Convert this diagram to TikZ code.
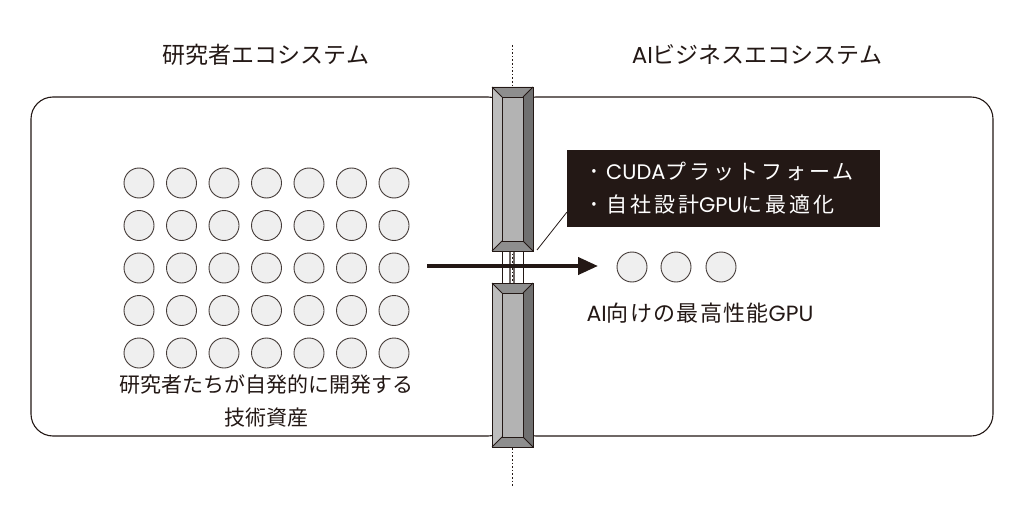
\documentclass[tikz,border=0pt]{standalone}
\usepackage{fontspec}
\setmainfont{Noto Sans CJK JP}
\newfontfamily\lat{Poppins}
\usetikzlibrary{arrows.meta}
\definecolor{ink}{HTML}{231815}
\definecolor{dotfill}{HTML}{EFEFEF}
\definecolor{pilLight}{HTML}{BDBDBD}
\definecolor{pilFace}{HTML}{B3B3B3}
\definecolor{pilMid}{HTML}{8E8E8E}
\definecolor{pilDark}{HTML}{707070}
\newcommand\mypillar[2]{%
  % #1 top y, #2 bottom y ; x from 492 to 533, bevel 10
  \fill[pilLight] (492,#1) -- (502,#1+10) -- (502,#2-10) -- (492,#2) -- cycle;
  \fill[pilDark] (533,#1) -- (523,#1+10) -- (523,#2-10) -- (533,#2) -- cycle;
  \fill[pilMid] (492,#1) -- (533,#1) -- (523,#1+10) -- (502,#1+10) -- cycle;
  \fill[pilMid] (492,#2) -- (533,#2) -- (523,#2-10) -- (502,#2-10) -- cycle;
  \fill[pilFace] (502,#1+10) rectangle (523,#2-10);
  \draw[pillarline] (492,#1) rectangle (533,#2);
  \draw[pillarline] (502,#1+10) rectangle (523,#2-10);
  \draw[pillarline] (492,#1) -- (502,#1+10) (533,#1) -- (523,#1+10)
                    (492,#2) -- (502,#2-10) (533,#2) -- (523,#2-10);
}
\begin{document}
\begin{tikzpicture}[x=1pt,y=-1pt,
  frame/.style={draw=ink, line width=1.1pt, rounded corners=22pt},
  dot/.style={circle, draw=ink!85, fill=dotfill, line width=0.9pt, minimum size=30pt, inner sep=0pt},
  pillarline/.style={draw=ink, line width=0.8pt},
  title/.style={text=ink, font=\fontsize{23}{27}\selectfont, inner sep=0pt},
  label/.style={text=ink, font=\fontsize{21}{33}\selectfont, inner sep=0pt, align=center},
  infotext/.style={text=white, font=\fontsize{21}{33}\selectfont\addfontfeature{LetterSpace=14}, inner sep=0pt, anchor=west},
]
\useasboundingbox (0,0) rectangle (1024,505);
\fill[white] (0,0) rectangle (1024,505);

% ecosystem frames
\draw[frame] (31,97) rectangle (510,436);
\draw[frame] (514,97) rectangle (993,436);

% dotted boundary
\draw[ink, line width=1pt, dash pattern=on 1.6pt off 2pt] (512,45) -- (512,487);
% shaft between pillars
\draw[ink, line width=0.8pt] (502,251) -- (502,283) (523,251) -- (523,283);

% titles
\node[title] (t1) at (266,55) {研究者エコシステム};
\node[title] (t2) at (757,55) {{\lat AI}ビジネスエコシステム};

% dot grid
\foreach \r in {0,...,4}{
  \foreach \c in {0,...,6}{
    \node[dot] (d\r\c) at (139+42.5*\c, 183+42.5*\r) {};
  }
}
\node[label] (l1) at (266,401) {研究者たちが自発的に開発する\\技術資産};

% right dots
\node[dot] (g1) at (632,267) {};
\node[dot] (g2) at (676,267) {};
\node[dot] (g3) at (721,267) {};
\node[label, font=\fontsize{22}{33}\selectfont\addfontfeature{LetterSpace=6}] (l2) at (700,313) {{\lat AI}向けの最高性能{\lat GPU}};

% arrow
\coordinate (as) at (427,266);
\coordinate (ae) at (598,266);
\draw[ink, line width=4pt, -{Triangle[length=20pt,width=17pt]}] (as) -- (ae);

% pillars
\mypillar{87}{251}
\mypillar{283}{447}

% info box
\node[fill=ink, minimum width=313pt, minimum height=77pt, inner sep=0pt, anchor=north west] (info) at (567,150) {};
\node[text=white, font=\fontsize{14}{14}\selectfont, inner sep=0pt] (b1) at (594,172) {•};
\node[text=white, font=\fontsize{14}{14}\selectfont, inner sep=0pt] (b2) at (594,205) {•};
\node[infotext] (i1) at (606,172) {{\lat CUDA}プラットフォーム};
\node[infotext] (i2) at (606,205) {自社設計{\lat GPU}に最適化};
\coordinate (pc) at (537,250);
\coordinate (bc) at (567,212);
\draw[ink, line width=0.8pt] (pc) -- (bc);
\end{tikzpicture}
\end{document}
